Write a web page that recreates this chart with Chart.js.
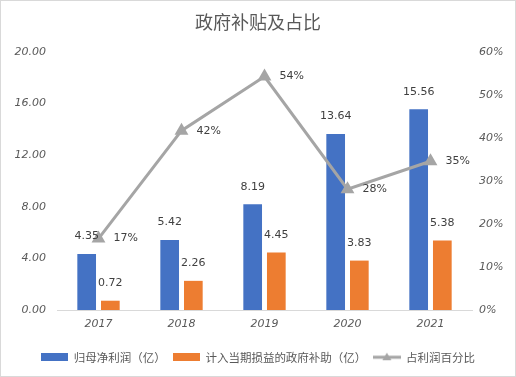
<!DOCTYPE html>
<html>
<head>
<meta charset="utf-8">
<script src="https://cdn.jsdelivr.net/npm/chart.js@4.4.0/dist/chart.umd.min.js"></script>
<style>
  html, body { margin: 0; padding: 0; background: #fff; }
  #wrap { width: 516px; height: 377px; }
</style>
</head>
<body>
<div id="wrap"><canvas id="c" width="516" height="377"></canvas></div>
<script>
const categories = ['2017', '2018', '2019', '2020', '2021'];
const netProfit = [4.35, 5.42, 8.19, 13.64, 15.56];
const govSubsidy = [0.72, 2.26, 4.45, 3.83, 5.38];
const subsidyShare = [0.166, 0.417, 0.543, 0.281, 0.346];
const leftTicks = [0, 4, 8, 12, 16, 20];
const rightTicks = [0, 0.1, 0.2, 0.3, 0.4, 0.5, 0.6];
const seriesNames = ['归母净利润（亿）', '计入当期损益的政府补助（亿）', '占利润百分比'];
const titleText = '政府补贴及占比';

const BLUE = '#4472C4', ORANGE = '#ED7D31', GRAY = '#A5A5A5', TXT = '#595959';

function boxImg(color) {
  const c = document.createElement('canvas');
  c.width = 27; c.height = 8;
  const g = c.getContext('2d');
  g.fillStyle = color; g.fillRect(0, 0, 27, 8);
  return c;
}
function lineImg() {
  const c = document.createElement('canvas');
  c.width = 28; c.height = 12;
  const g = c.getContext('2d');
  g.strokeStyle = GRAY; g.lineWidth = 3;
  g.beginPath(); g.moveTo(0, 6); g.lineTo(28, 6); g.stroke();
  g.fillStyle = GRAY;
  g.beginPath(); g.moveTo(14, 1.5); g.lineTo(18.5, 9); g.lineTo(9.5, 9); g.closePath(); g.fill();
  return c;
}
const legendImgs = [boxImg(BLUE), boxImg(ORANGE), lineImg()];

const bgBorder = {
  id: 'bgBorder',
  beforeDraw(chart) {
    const ctx = chart.ctx;
    ctx.save(); ctx.fillStyle = '#fff'; ctx.fillRect(0, 0, chart.width, chart.height); ctx.restore();
  },
  afterDraw(chart) {
    const ctx = chart.ctx;
    ctx.save(); ctx.strokeStyle = '#d9d9d9'; ctx.lineWidth = 1;
    ctx.strokeRect(0.5, 0.5, chart.width - 1, chart.height - 1); ctx.restore();
  }
};

const valueLabels = {
  id: 'valueLabels',
  afterDatasetsDraw(chart) {
    const ctx = chart.ctx;
    ctx.save();
    ctx.font = '11px "DejaVu Sans"';
    ctx.fillStyle = '#404040';
    ctx.textBaseline = 'middle';
    [0, 1].forEach(di => {
      const meta = chart.getDatasetMeta(di);
      const vals = chart.data.datasets[di].data;
      meta.data.forEach((el, i) => {
        ctx.textAlign = 'center';
        ctx.fillText(vals[i].toFixed(2), el.x, el.y - 17.5);
      });
    });
    const lm = chart.getDatasetMeta(2);
    const lv = chart.data.datasets[2].data;
    lm.data.forEach((el, i) => {
      ctx.textAlign = 'left';
      ctx.fillText(Math.round(lv[i] * 100) + '%', el.x + 15, el.y);
    });
    ctx.restore();
  }
};

new Chart(document.getElementById('c'), {
  data: {
    labels: categories,
    datasets: [
      { type: 'bar', label: seriesNames[0], data: netProfit, backgroundColor: BLUE, yAxisID: 'y', order: 2,
        categoryPercentage: 0.57, barPercentage: 0.79 },
      { type: 'bar', label: seriesNames[1], data: govSubsidy, backgroundColor: ORANGE, yAxisID: 'y', order: 3,
        categoryPercentage: 0.57, barPercentage: 0.79 },
      { type: 'line', label: seriesNames[2], data: subsidyShare, borderColor: GRAY, backgroundColor: GRAY,
        borderWidth: 3, pointStyle: 'triangle', pointRadius: 5, pointBackgroundColor: GRAY, pointBorderColor: GRAY,
        yAxisID: 'y1', order: 1, tension: 0 }
    ]
  },
  options: {
    responsive: false,
    animation: false,
    layout: { padding: { left: 0, right: 0, top: 0, bottom: 4 } },
    plugins: {
      tooltip: { enabled: false },
      title: {
        display: true, text: titleText, color: TXT,
        font: { family: '"Noto Sans CJK SC"', size: 18, weight: 'normal' },
        padding: { top: 11, bottom: 19.4 }
      },
      legend: {
        position: 'bottom',
        labels: {
          usePointStyle: true, pointStyleWidth: 27, boxHeight: 8, padding: 7, color: TXT,
          font: { family: '"Noto Sans CJK SC"', size: 11.5 },
          generateLabels(chart) {
            return chart.data.datasets.map((ds, i) => ({
              text: ds.label, datasetIndex: i, pointStyle: legendImgs[i],
              fillStyle: ds.backgroundColor, strokeStyle: ds.backgroundColor, lineWidth: 0,
              fontColor: TXT, hidden: false
            }));
          }
        }
      }
    },
    scales: {
      x: {
        grid: { display: false, drawTicks: false },
        border: { display: true, color: '#d9d9d9', width: 1 },
        ticks: { color: TXT, padding: 8, font: { family: '"DejaVu Sans"', size: 11, style: 'italic' } },
        afterFit(s) { s.height = 34.5; }
      },
      y: {
        position: 'left', min: 0, max: 20,
        afterBuildTicks(s) { s.ticks = leftTicks.map(v => ({ value: v })); },
        grid: { display: false, drawTicks: false },
        border: { display: false },
        ticks: { color: TXT, padding: 11, font: { family: '"DejaVu Sans"', size: 11, style: 'italic' },
          callback: v => Number(v).toFixed(2) },
        afterFit(s) { s.width = 57; }
      },
      y1: {
        position: 'right', min: 0, max: 0.6,
        afterBuildTicks(s) { s.ticks = rightTicks.map(v => ({ value: v })); },
        grid: { display: false, drawTicks: false },
        border: { display: false },
        ticks: { color: TXT, padding: 7, font: { family: '"DejaVu Sans"', size: 11, style: 'italic' },
          callback: v => Math.round(v * 100) + '%' },
        afterFit(s) { s.width = 44; }
      }
    }
  },
  plugins: [bgBorder, valueLabels]
});
</script>
</body>
</html>
